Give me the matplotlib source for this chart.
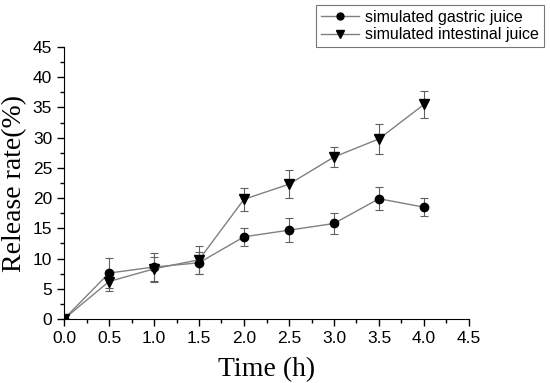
import matplotlib
matplotlib.use("Agg")
import matplotlib.pyplot as plt
from matplotlib.ticker import MultipleLocator
from matplotlib.lines import Line2D

# time points (h)
time = [0, 0.5, 1.0, 1.5, 2.0, 2.5, 3.0, 3.5, 4.0]

# release rate (%) and error
gastric = [0, 7.6, 8.6, 9.3, 13.6, 14.7, 15.8, 19.9, 18.5]
gastric_err = [0, 2.5, 2.4, 1.8, 1.5, 2.0, 1.8, 1.9, 1.5]
intestinal = [0, 6.2, 8.3, 9.8, 19.8, 22.3, 26.8, 29.8, 35.5]
intestinal_err = [0, 1.5, 2.0, 2.3, 1.9, 2.3, 1.7, 2.5, 2.2]

fig = plt.figure(figsize=(5.5, 3.83), dpi=100)
ax = fig.add_axes([64/550, 1 - 319/383, 405/550, 272/383])

tick_font = "Liberation Sans"
label_font = "Liberation Serif"

ax.errorbar(time, gastric, yerr=gastric_err, color="#808080", lw=1,
            marker="o", ms=6, mfc="black", mec="black",
            ecolor="#606060", elinewidth=0.8, capsize=3, capthick=0.8)
ax.errorbar(time, intestinal, yerr=intestinal_err, color="#808080", lw=1,
            marker="v", ms=7, mfc="black", mec="black",
            ecolor="#606060", elinewidth=0.8, capsize=3, capthick=0.8)

ax.set_xlim(0, 4.5)
ax.set_ylim(0, 45)
ax.xaxis.set_major_locator(MultipleLocator(0.5))
ax.xaxis.set_minor_locator(MultipleLocator(0.25))
ax.yaxis.set_major_locator(MultipleLocator(5))
ax.yaxis.set_minor_locator(MultipleLocator(2.5))
ax.set_xticklabels([f"{v:.1f}" for v in ax.get_xticks()])

ax.spines["top"].set_visible(False)
ax.spines["right"].set_visible(False)
ax.tick_params(which="both", direction="out", width=1)
ax.tick_params(which="major", length=5, labelsize=12.5)
ax.tick_params(which="minor", length=3)
for lab in ax.get_xticklabels() + ax.get_yticklabels():
    lab.set_fontfamily(tick_font)

ax.set_xlabel("Time (h)", fontsize=20, fontfamily=label_font, labelpad=8)
ax.set_ylabel("Release rate(%)", fontsize=20, fontfamily=label_font, labelpad=4)

handles = [
    Line2D([], [], color="#808080", lw=1, marker="o", ms=5, mfc="black", mec="black"),
    Line2D([], [], color="#808080", lw=1, marker="v", ms=5.5, mfc="black", mec="black"),
]
labels = ["simulated gastric juice", "simulated intestinal juice"]
leg = fig.legend(handles, labels, loc="upper right", bbox_to_anchor=(544/550, 1 - 5/383),
                 prop={"family": tick_font, "size": 11.5}, frameon=True,
                 fancybox=False, edgecolor="#555555", borderpad=0.3,
                 labelspacing=0.15, handlelength=2.4, handletextpad=0.4,
                 borderaxespad=0)
leg.get_frame().set_linewidth(0.8)

fig.savefig("out.png", dpi=100)
